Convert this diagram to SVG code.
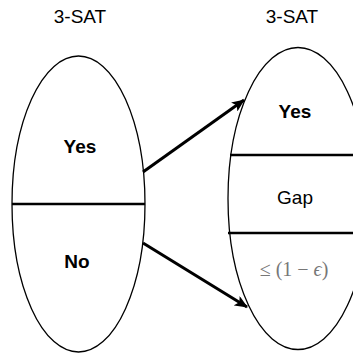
<svg xmlns="http://www.w3.org/2000/svg" width="353" height="353" viewBox="0 0 353 353">
<style>
.el{fill:#fff;stroke:#000;stroke-width:1.3}
.div{stroke:#000;stroke-width:2.5}
.t{font-family:"Liberation Sans",Arial,sans-serif;font-size:19px;fill:#000;text-anchor:middle}
.b{font-weight:bold}
.c{stroke:#000;stroke-width:3;fill:none}
</style>
<defs>
<marker id="ah" markerWidth="13" markerHeight="11" refX="12" refY="5.5" orient="auto" markerUnits="userSpaceOnUse" viewBox="0 0 13 11">
<path d="M0,0 L13,5.5 L0,11 L3,5.5 z" fill="#000"/>
</marker>
</defs>
<rect width="353" height="353" fill="#fff"/>
<g id="left">
<ellipse class="el" cx="78.5" cy="204" rx="66.5" ry="148"/>
<line class="div" x1="12" y1="204" x2="145" y2="204"/>
<text class="t" x="80" y="23">3-SAT</text>
<text class="t b" x="80" y="153">Yes</text>
<text class="t b" x="77" y="268">No</text>
</g>
<g id="right">
<ellipse class="el" cx="298" cy="198.5" rx="70" ry="151"/>
<line class="div" x1="230" y1="155" x2="353" y2="155"/>
<line class="div" x1="228" y1="233" x2="353" y2="233"/>
<text class="t" x="292" y="23">3-SAT</text>
<text class="t b" x="295" y="118">Yes</text>
<text class="t" x="295" y="204">Gap</text>
<text x="294" y="276" font-family="'Liberation Serif','DejaVu Serif',serif" font-size="20" fill="#777" text-anchor="middle">≤ (1 − <tspan font-style="italic">ϵ</tspan>)</text>
</g>
<g id="connectors">
<line class="c" x1="143" y1="172" x2="244" y2="100" marker-end="url(#ah)"/>
<line class="c" x1="143" y1="243" x2="247" y2="307" marker-end="url(#ah)"/>
</g>
</svg>
